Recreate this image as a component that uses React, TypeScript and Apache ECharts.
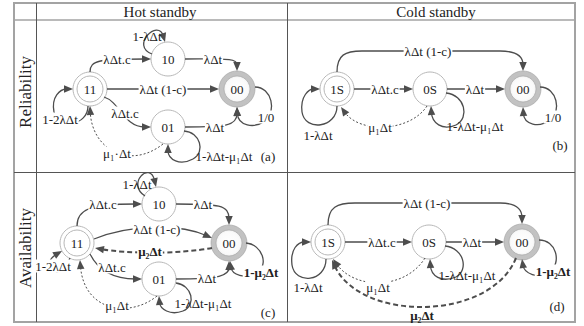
import React, { useEffect, useRef } from "react";
import * as echarts from "echarts";

// ---------- helpers ----------
const L = (x0: number, y0: number, x1: number, y1: number): number[] => [
  x0, y0,
  x0 + (x1 - x0) / 3, y0 + (y1 - y0) / 3,
  x0 + (2 * (x1 - x0)) / 3, y0 + (2 * (y1 - y0)) / 3,
  x1, y1,
];

// ---------- nodes: [label, x, y, kind] ----------
const NODES_A: [string, number, number, string][] = [
  ["11", 90, 89, "double"],
  ["10", 168, 59, "single"],
  ["00", 237, 89, "absorb"],
  ["01", 168, 127, "single"],
];
const NODES_B: [string, number, number, string][] = [
  ["1S", 337, 89, "double"],
  ["0S", 430, 89, "single"],
  ["00", 523, 89, "absorb"],
];
const NODES_C: [string, number, number, string][] = [
  ["11", 77, 243, "double"],
  ["10", 159, 204, "single"],
  ["00", 229, 243, "absorb"],
  ["01", 159, 279, "single"],
];
const NODES_D: [string, number, number, string][] = [
  ["1S", 328, 242, "double"],
  ["0S", 429, 242, "single"],
  ["00", 522, 242, "absorb"],
];

// ---------- edges: [segments (cubic beziers), style] ----------
type Edge = [number[][], string];
const EDGES_A: Edge[] = [
  [[[90, 72, 90, 60, 100, 59, 151, 59]], "solid"],
  [[[152, 54, 130, 46, 158, 18, 165, 42]], "solid"],
  [[[185, 59, 226, 59, 237, 58, 237, 71]], "solid"],
  [[L(107, 89, 219, 89)], "solid"],
  [[[104, 97, 120, 102, 124, 127, 151, 127]], "solid"],
  [[[185, 127, 226, 127, 237, 126, 237, 107]], "solid"],
  [[[255, 87, 272, 87, 277, 112, 265, 121], [265, 121, 254, 129, 238, 126, 237, 107]], "solid"],
  [[[88, 106, 88, 126, 58, 130, 54, 112], [54, 112, 51, 97, 60, 89, 73, 89]], "solid"],
  [[[163, 144, 130, 170, 92, 150, 90, 106]], "dot"],
  [[[184, 131, 200, 132, 206, 152, 193, 159], [193, 159, 180, 166, 168, 160, 168, 144]], "solid"],
];
const EDGES_B: Edge[] = [
  [[[337, 72, 337, 55, 345, 51, 362, 51], L(362, 51, 500, 51), [500, 51, 516, 51, 523, 56, 523, 71]], "solid"],
  [[L(354, 89, 413, 89)], "solid"],
  [[L(447, 89, 505, 89)], "solid"],
  [[[540, 87, 557, 87, 562, 112, 550, 120], [550, 120, 539, 128, 524, 125, 523, 107]], "solid"],
  [[[337, 106, 337, 128, 305, 132, 302, 112], [302, 112, 300, 96, 309, 89, 320, 89]], "solid"],
  [[[427, 106, 410, 132, 360, 134, 341, 107]], "dot"],
  [[[446, 93, 465, 95, 470, 118, 456, 125], [456, 125, 442, 131, 432, 123, 431, 106]], "solid"],
];
const EDGES_C: Edge[] = [
  [[[77, 226, 77, 210, 88, 204, 142, 204]], "solid"],
  [[[145, 196, 126, 184, 150, 160, 156, 187]], "solid"],
  [[[176, 204, 219, 204, 229, 205, 229, 225]], "solid"],
  [[[94, 239, 130, 224, 180, 224, 212, 238]], "solid"],
  [[[212, 248, 180, 254, 128, 254, 95, 248]], "bold"],
  [[[90, 254, 98, 270, 114, 279, 142, 279]], "solid"],
  [[[176, 279, 220, 279, 229, 276, 229, 261]], "solid"],
  [[[246, 243, 262, 244, 270, 266, 256, 273], [256, 273, 245, 279, 232, 275, 230, 261]], "solid"],
  [[[70, 258, 60, 285, 38, 265, 62, 251]], "solid"],
  [[[157, 296, 130, 318, 84, 312, 80, 260]], "dot"],
  [[[176, 283, 192, 285, 197, 305, 183, 311], [183, 311, 170, 316, 160, 309, 159, 296]], "solid"],
];
const EDGES_D: Edge[] = [
  [[[328, 225, 328, 207, 337, 203, 355, 203], L(355, 203, 500, 203), [500, 203, 515, 203, 522, 208, 522, 224]], "solid"],
  [[L(345, 242, 412, 242)], "solid"],
  [[L(446, 242, 504, 242)], "solid"],
  [[[539, 240, 556, 240, 562, 262, 550, 272], [550, 272, 538, 280, 524, 273, 522, 259]], "solid"],
  [[[326, 259, 326, 282, 295, 285, 292, 265], [292, 265, 290, 249, 298, 242, 311, 242]], "solid"],
  [[[425, 258, 405, 290, 355, 290, 333, 259]], "dot"],
  [[[445, 246, 464, 248, 469, 270, 456, 277], [456, 277, 441, 283, 431, 276, 430, 259]], "solid"],
  [[[516, 258, 490, 322, 360, 322, 332, 260]], "bold"],
];

// ---------- labels: [text, x, y, onLine, bold] ----------
type Lab = [string, number, number, boolean, boolean];
const LABELS_A: Lab[] = [
  ["1-λΔt", 147, 36, false, false],
  ["λΔt.c", 117, 59, true, false],
  ["λΔt", 213, 59, true, false],
  ["λΔt (1-c)", 163, 89, true, false],
  ["λΔt.c", 125, 113, true, false],
  ["λΔt", 215, 127, true, false],
  ["1/0", 266, 117, true, false],
  ["1-2λΔt", 60, 119, true, false],
  ["μ₁·Δt", 117, 153, true, false],
  ["1-λΔt-μ₁Δt", 224, 156, false, false],
  ["(a)", 268, 156, false, false],
];
const LABELS_B: Lab[] = [
  ["λΔt (1-c)", 428, 51, true, false],
  ["λΔt.c", 385, 89, true, false],
  ["λΔt", 475, 89, true, false],
  ["1/0", 553, 117, true, false],
  ["1-λΔt", 318, 135, false, false],
  ["μ₁Δt", 380, 127, true, false],
  ["1-λΔt-μ₁Δt", 475, 126, false, false],
  ["(b)", 560, 145, false, false],
];
const LABELS_C: Lab[] = [
  ["1-λΔt", 137, 184, false, false],
  ["λΔt.c", 103, 204, true, false],
  ["λΔt", 203, 204, true, false],
  ["λΔt (1-c)", 157, 229, true, false],
  ["μ₂Δt", 150, 251, true, true],
  ["λΔt.c", 112, 267, true, false],
  ["λΔt", 207, 278, true, false],
  ["1-μ₂Δt", 261, 272, true, true],
  ["1-2λΔt", 53, 266, true, false],
  ["μ₁Δt", 117, 305, true, false],
  ["1-λΔt-μ₁Δt", 203, 303, false, false],
  ["(c)", 268, 312, false, false],
];
const LABELS_D: Lab[] = [
  ["λΔt (1-c)", 427, 203, true, false],
  ["λΔt.c", 382, 242, true, false],
  ["λΔt", 472, 242, true, false],
  ["1-μ₂Δt", 553, 271, true, true],
  ["1-λΔt", 308, 287, false, false],
  ["μ₁Δt", 378, 287, true, false],
  ["1-λΔt-μ₁Δt", 467, 275, false, false],
  ["μ₂Δt", 422, 315, false, true],
  ["(d)", 557, 306, false, false],
];

const HEADERS: [string, number, number][] = [
  ["Hot standby", 160, 12],
  ["Cold standby", 436, 12],
];
const ROW_HEADERS: [string, number, number][] = [
  ["Reliability", 25, 92],
  ["Availability", 25, 248],
];

const NODES = [...NODES_A, ...NODES_B, ...NODES_C, ...NODES_D];
const EDGES = [...EDGES_A, ...EDGES_B, ...EDGES_C, ...EDGES_D];
const LABELS = [...LABELS_A, ...LABELS_B, ...LABELS_C, ...LABELS_D];

const FAMILY = "Liberation Serif, Times New Roman, serif";
const LINE = "#4d4d4d";
const TXT = "#222";
const R = 17;
const AL = 9;
const AW = 7.5;

function renderNode(params: any, api: any) {
  const n = NODES[api.value(2)];
  const c = api.coord([n[1], n[2]]);
  const ch: any[] = [];
  if (n[3] === "absorb") {
    ch.push({ type: "circle", shape: { cx: c[0], cy: c[1], r: R + 1 }, style: { fill: "#c2c2c2", stroke: "#a0a0a0", lineWidth: 0.6 } });
    ch.push({
      type: "circle",
      shape: { cx: c[0], cy: c[1], r: R - 4 },
      style: {
        fill: new echarts.graphic.RadialGradient(0.5, 0.5, 0.6, [
          { offset: 0, color: "#ffffff" },
          { offset: 0.7, color: "#fafafa" },
          { offset: 1, color: "#e4e4e4" },
        ]),
        stroke: "#a0a0a0",
        lineWidth: 0.6,
      },
    });
  } else {
    ch.push({ type: "circle", shape: { cx: c[0], cy: c[1], r: R }, style: { fill: "#fff", stroke: "#b8b8b8", lineWidth: 1 } });
    if (n[3] === "double") {
      ch.push({ type: "circle", shape: { cx: c[0], cy: c[1], r: R - 4 }, style: { fill: "#fff", stroke: "#b8b8b8", lineWidth: 1 } });
    }
  }
  ch.push({
    type: "text",
    x: c[0],
    y: c[1],
    style: { text: n[0], fill: TXT, fontFamily: FAMILY, fontSize: 13, align: "center", verticalAlign: "middle" },
  });
  return { type: "group", children: ch };
}

function renderEdge(params: any, api: any) {
  const e = EDGES[api.value(2)];
  const segs = e[0];
  const kind = e[1];
  const lw = kind === "bold" ? 2 : kind === "dot" ? 1 : 1.3;
  const dash = kind === "bold" ? [5, 3] : kind === "dot" ? [2, 2] : null;
  const ch: any[] = [];
  let tip: number[] | null = null;
  let dir: number[] = [1, 0];
  segs.forEach((s, k) => {
    const p0 = api.coord([s[0], s[1]]);
    const c1 = api.coord([s[2], s[3]]);
    const c2 = api.coord([s[4], s[5]]);
    let p1 = api.coord([s[6], s[7]]);
    if (k === segs.length - 1) {
      let dx = p1[0] - c2[0];
      let dy = p1[1] - c2[1];
      const len = Math.hypot(dx, dy) || 1;
      dx /= len;
      dy /= len;
      tip = p1;
      dir = [dx, dy];
      p1 = [p1[0] - dx * AL * 0.7, p1[1] - dy * AL * 0.7];
    }
    ch.push({
      type: "bezierCurve",
      shape: { x1: p0[0], y1: p0[1], cpx1: c1[0], cpy1: c1[1], cpx2: c2[0], cpy2: c2[1], x2: p1[0], y2: p1[1] },
      style: { stroke: LINE, fill: "none", lineWidth: lw, lineDash: dash },
    });
  });
  if (tip) {
    const t = tip as number[];
    const [dx, dy] = dir;
    const bx = t[0] - dx * AL;
    const by = t[1] - dy * AL;
    ch.push({
      type: "polygon",
      shape: { points: [[t[0], t[1]], [bx - (dy * AW) / 2, by + (dx * AW) / 2], [bx + (dy * AW) / 2, by - (dx * AW) / 2]] },
      style: { fill: LINE, stroke: "none" },
    });
  }
  return { type: "group", children: ch };
}

function renderLabel(params: any, api: any) {
  const l = LABELS[api.value(2)];
  const c = api.coord([l[1], l[2]]);
  const style: any = {
    text: l[0],
    fill: TXT,
    fontFamily: FAMILY,
    fontSize: 13,
    fontWeight: l[4] ? "bold" : "normal",
    align: "center",
    verticalAlign: "middle",
  };
  if (l[3]) {
    style.backgroundColor = "#fff";
    style.padding = [0, 1];
  }
  return { type: "text", x: c[0], y: c[1], style };
}

export default function App() {
  const ref = useRef<HTMLDivElement>(null);
  useEffect(() => {
    if (!ref.current) return;
    const chart = echarts.init(ref.current, null, { renderer: "svg" });
    const graphic: any[] = [
      { type: "rect", shape: { x: 14, y: 3, width: 561, height: 319 }, style: { fill: "none", stroke: "#a3a3a3", lineWidth: 2 } },
      { type: "line", shape: { x1: 14, y1: 20, x2: 575, y2: 20 }, style: { stroke: "#a3a3a3", lineWidth: 1.5 } },
      { type: "line", shape: { x1: 36.5, y1: 3, x2: 36.5, y2: 322 }, style: { stroke: "#555", lineWidth: 1 } },
      { type: "line", shape: { x1: 287.5, y1: 3, x2: 287.5, y2: 322 }, style: { stroke: "#555", lineWidth: 1 } },
      { type: "line", shape: { x1: 14, y1: 172.5, x2: 575, y2: 172.5 }, style: { stroke: "#555", lineWidth: 1 } },
      ...HEADERS.map((h) => ({
        type: "text",
        x: h[1],
        y: h[2],
        style: { text: h[0], fill: TXT, fontFamily: FAMILY, fontSize: 15, align: "center", verticalAlign: "middle" },
      })),
      ...ROW_HEADERS.map((h) => ({
        type: "text",
        x: h[1],
        y: h[2],
        rotation: Math.PI / 2,
        style: { text: h[0], fill: TXT, fontFamily: FAMILY, fontSize: 17, align: "center", verticalAlign: "middle" },
      })),
    ];
    chart.setOption({
      animation: false,
      grid: { left: 0, right: 0, top: 0, bottom: 0 },
      xAxis: { type: "value", min: 0, max: 584, show: false },
      yAxis: { type: "value", min: 0, max: 326, inverse: true, show: false },
      graphic,
      series: [
        {
          type: "custom",
          coordinateSystem: "cartesian2d",
          clip: false,
          silent: true,
          z: 3,
          renderItem: renderEdge,
          data: EDGES.map((e, i) => [e[0][0][0], e[0][0][1], i]),
        },
        {
          type: "custom",
          coordinateSystem: "cartesian2d",
          clip: false,
          silent: true,
          z: 2,
          renderItem: renderNode,
          data: NODES.map((n, i) => [n[1], n[2], i]),
        },
        {
          type: "custom",
          coordinateSystem: "cartesian2d",
          clip: false,
          silent: true,
          z: 4,
          renderItem: renderLabel,
          data: LABELS.map((l, i) => [l[1], l[2], i]),
        },
      ],
    });
    return () => chart.dispose();
  }, []);
  return (
    <div
      ref={ref}
      style={{ position: "fixed", left: 0, top: 0, width: 584, height: 326, background: "#fff" }}
    />
  );
}
